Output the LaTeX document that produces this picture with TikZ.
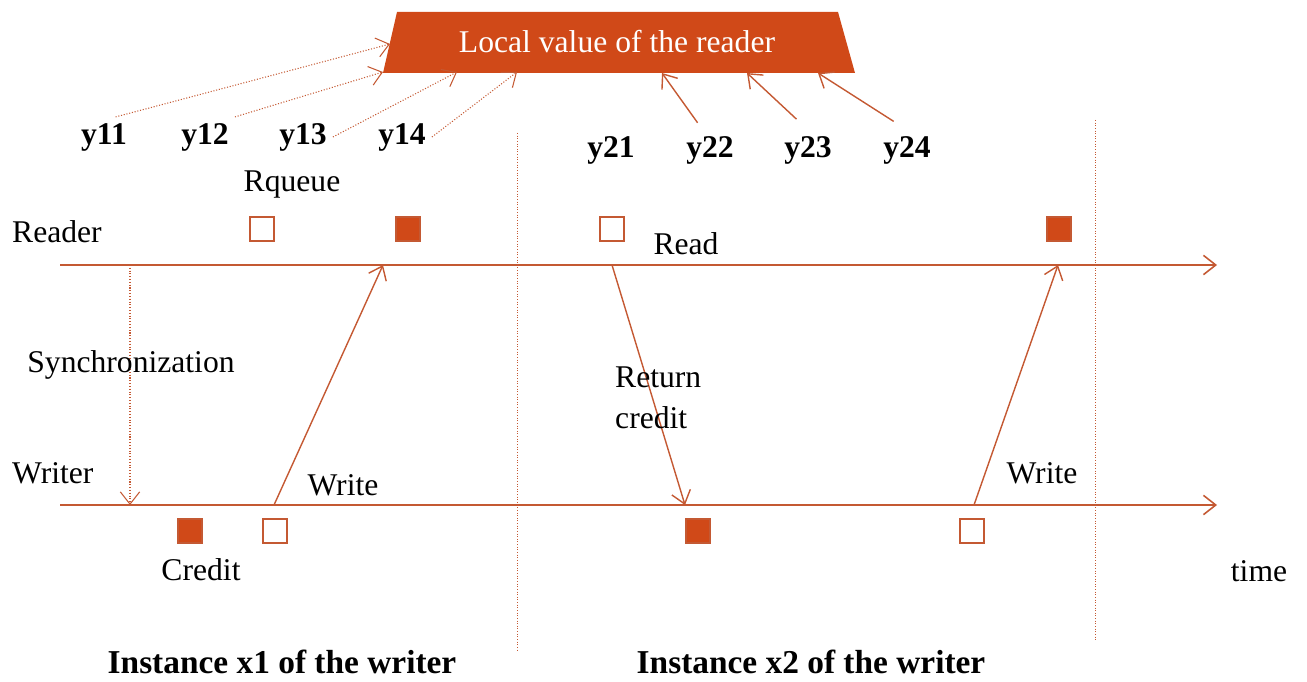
\documentclass[tikz,border=0pt]{standalone}
\usepackage{fontspec}
\setmainfont{Liberation Serif}
\usetikzlibrary{arrows.meta}
\definecolor{rust}{RGB}{196,89,51}
\definecolor{brick}{RGB}{208,73,24}

\begin{document}
\begin{tikzpicture}[x=0.02cm, y=-0.02cm,
        font=\fontsize{18}{23}\selectfont,
        >={Straight Barb[length=7pt,width=11pt]},
        openbox/.style={draw=rust, line width=0.9pt, fill=white, minimum size=0.48cm, inner sep=0pt},
        fullbox/.style={openbox, fill=brick},
        axis/.style={rust, line width=0.9pt, ->},
        msg/.style={rust, line width=0.8pt, ->},
        feed/.style={rust, line width=0.6pt, densely dotted, ->},
        sep/.style={rust, line width=0.5pt, densely dotted},
        tag/.style={font=\fontsize{18}{21}\selectfont\bfseries},
        head/.style={font=\fontsize{19}{23}\selectfont\bfseries}]
    \useasboundingbox (0,0) rectangle (1307,682);

    % local value of the reader
    \fill[brick] (397,12) -- (838,12) -- (855,73) -- (383,73) -- cycle;
    \node[white] (local) at (617,42) {Local value of the reader};
    \coordinate (t11) at (390,44);
    \coordinate (t12) at (383,72);
    \coordinate (t13) at (457,72);
    \coordinate (t14) at (517,72);
    \coordinate (t22) at (662,73);
    \coordinate (t23) at (747,73);
    \coordinate (t24) at (818,73);

    \node[tag] (y11) at (104,137) {y11};
    \node[tag] (y12) at (205,137) {y12};
    \node[tag] (y13) at (303,137) {y13};
    \node[tag] (y14) at (402,137) {y14};
    \node[tag] (y21) at (611,150) {y21};
    \node[tag] (y22) at (710,150) {y22};
    \node[tag] (y23) at (808,150) {y23};
    \node[tag] (y24) at (907,150) {y24};

    \draw[feed] (y11.60) -- (t11);
    \draw[feed] (y12.north east) -- (t12);
    \draw[feed] (y13.east) -- (t13);
    \draw[feed] (y14.east) -- (t14);
    \draw[msg, shorten <=5pt] (y22.110) -- (t22);
    \draw[msg, shorten <=9pt] (y23.north) -- (t23);
    \draw[msg, shorten <=9pt] (y24.north) -- (t24);

    % instances
    \coordinate (s1a) at (517,133);
    \coordinate (s1b) at (517,652);
    \coordinate (s2a) at (1095,120);
    \coordinate (s2b) at (1095,640);
    \draw[sep] (s1a) -- (s1b);
    \draw[sep] (s2a) -- (s2b);

    % time lines
    \coordinate (rs) at (60,265);
    \coordinate (re) at (1217,265);
    \coordinate (ws) at (60,505);
    \coordinate (we) at (1217,505);
    \draw[axis] (rs) -- (re);
    \draw[axis] (ws) -- (we);
    \node[anchor=west] (reader) at (6,232) {Reader};
    \node[anchor=west] (writer) at (6,473) {Writer};
    \node (time) at (1259,571) {time};

    % buffers
    \node[openbox] (rb1) at (262,229) {};
    \node[fullbox] (rb2) at (408,229) {};
    \node[openbox] (rb3) at (612,229) {};
    \node[fullbox] (rb4) at (1059,229) {};
    \node[fullbox] (wb1) at (190,531) {};
    \node[openbox] (wb2) at (275,531) {};
    \node[fullbox] (wb3) at (698,531) {};
    \node[openbox] (wb4) at (972,531) {};
    \node (rqueue) at (292,185) {Rqueue};
    \node (credit) at (201,570) {Credit};

    % messages
    \coordinate (sr) at (130,265);
    \coordinate (sw) at (130,505);
    \coordinate (w1) at (274,505);
    \coordinate (r1) at (383,265);
    \coordinate (r2) at (612,265);
    \coordinate (w2) at (685,505);
    \coordinate (w3) at (974,505);
    \coordinate (r3) at (1058,265);
    \draw[feed] (sr) -- (sw);
    \draw[msg] (w1) -- (r1);
    \draw[msg] (r2) -- (w2);
    \draw[msg] (w3) -- (r3);
    \node (synclbl) at (131,365) {Synchronization};
    \node (write1) at (343,485) {Write};
    \node (read) at (686,244) {Read};
    \node[anchor=west, align=left] (retcred) at (609,398) {Return\\credit};
    \node (write2) at (1042,473) {Write};

    \node[head] (inst1) at (282,662) {Instance x1 of the writer};
    \node[head] (inst2) at (811,662) {Instance x2 of the writer};
\end{tikzpicture}
\end{document}
